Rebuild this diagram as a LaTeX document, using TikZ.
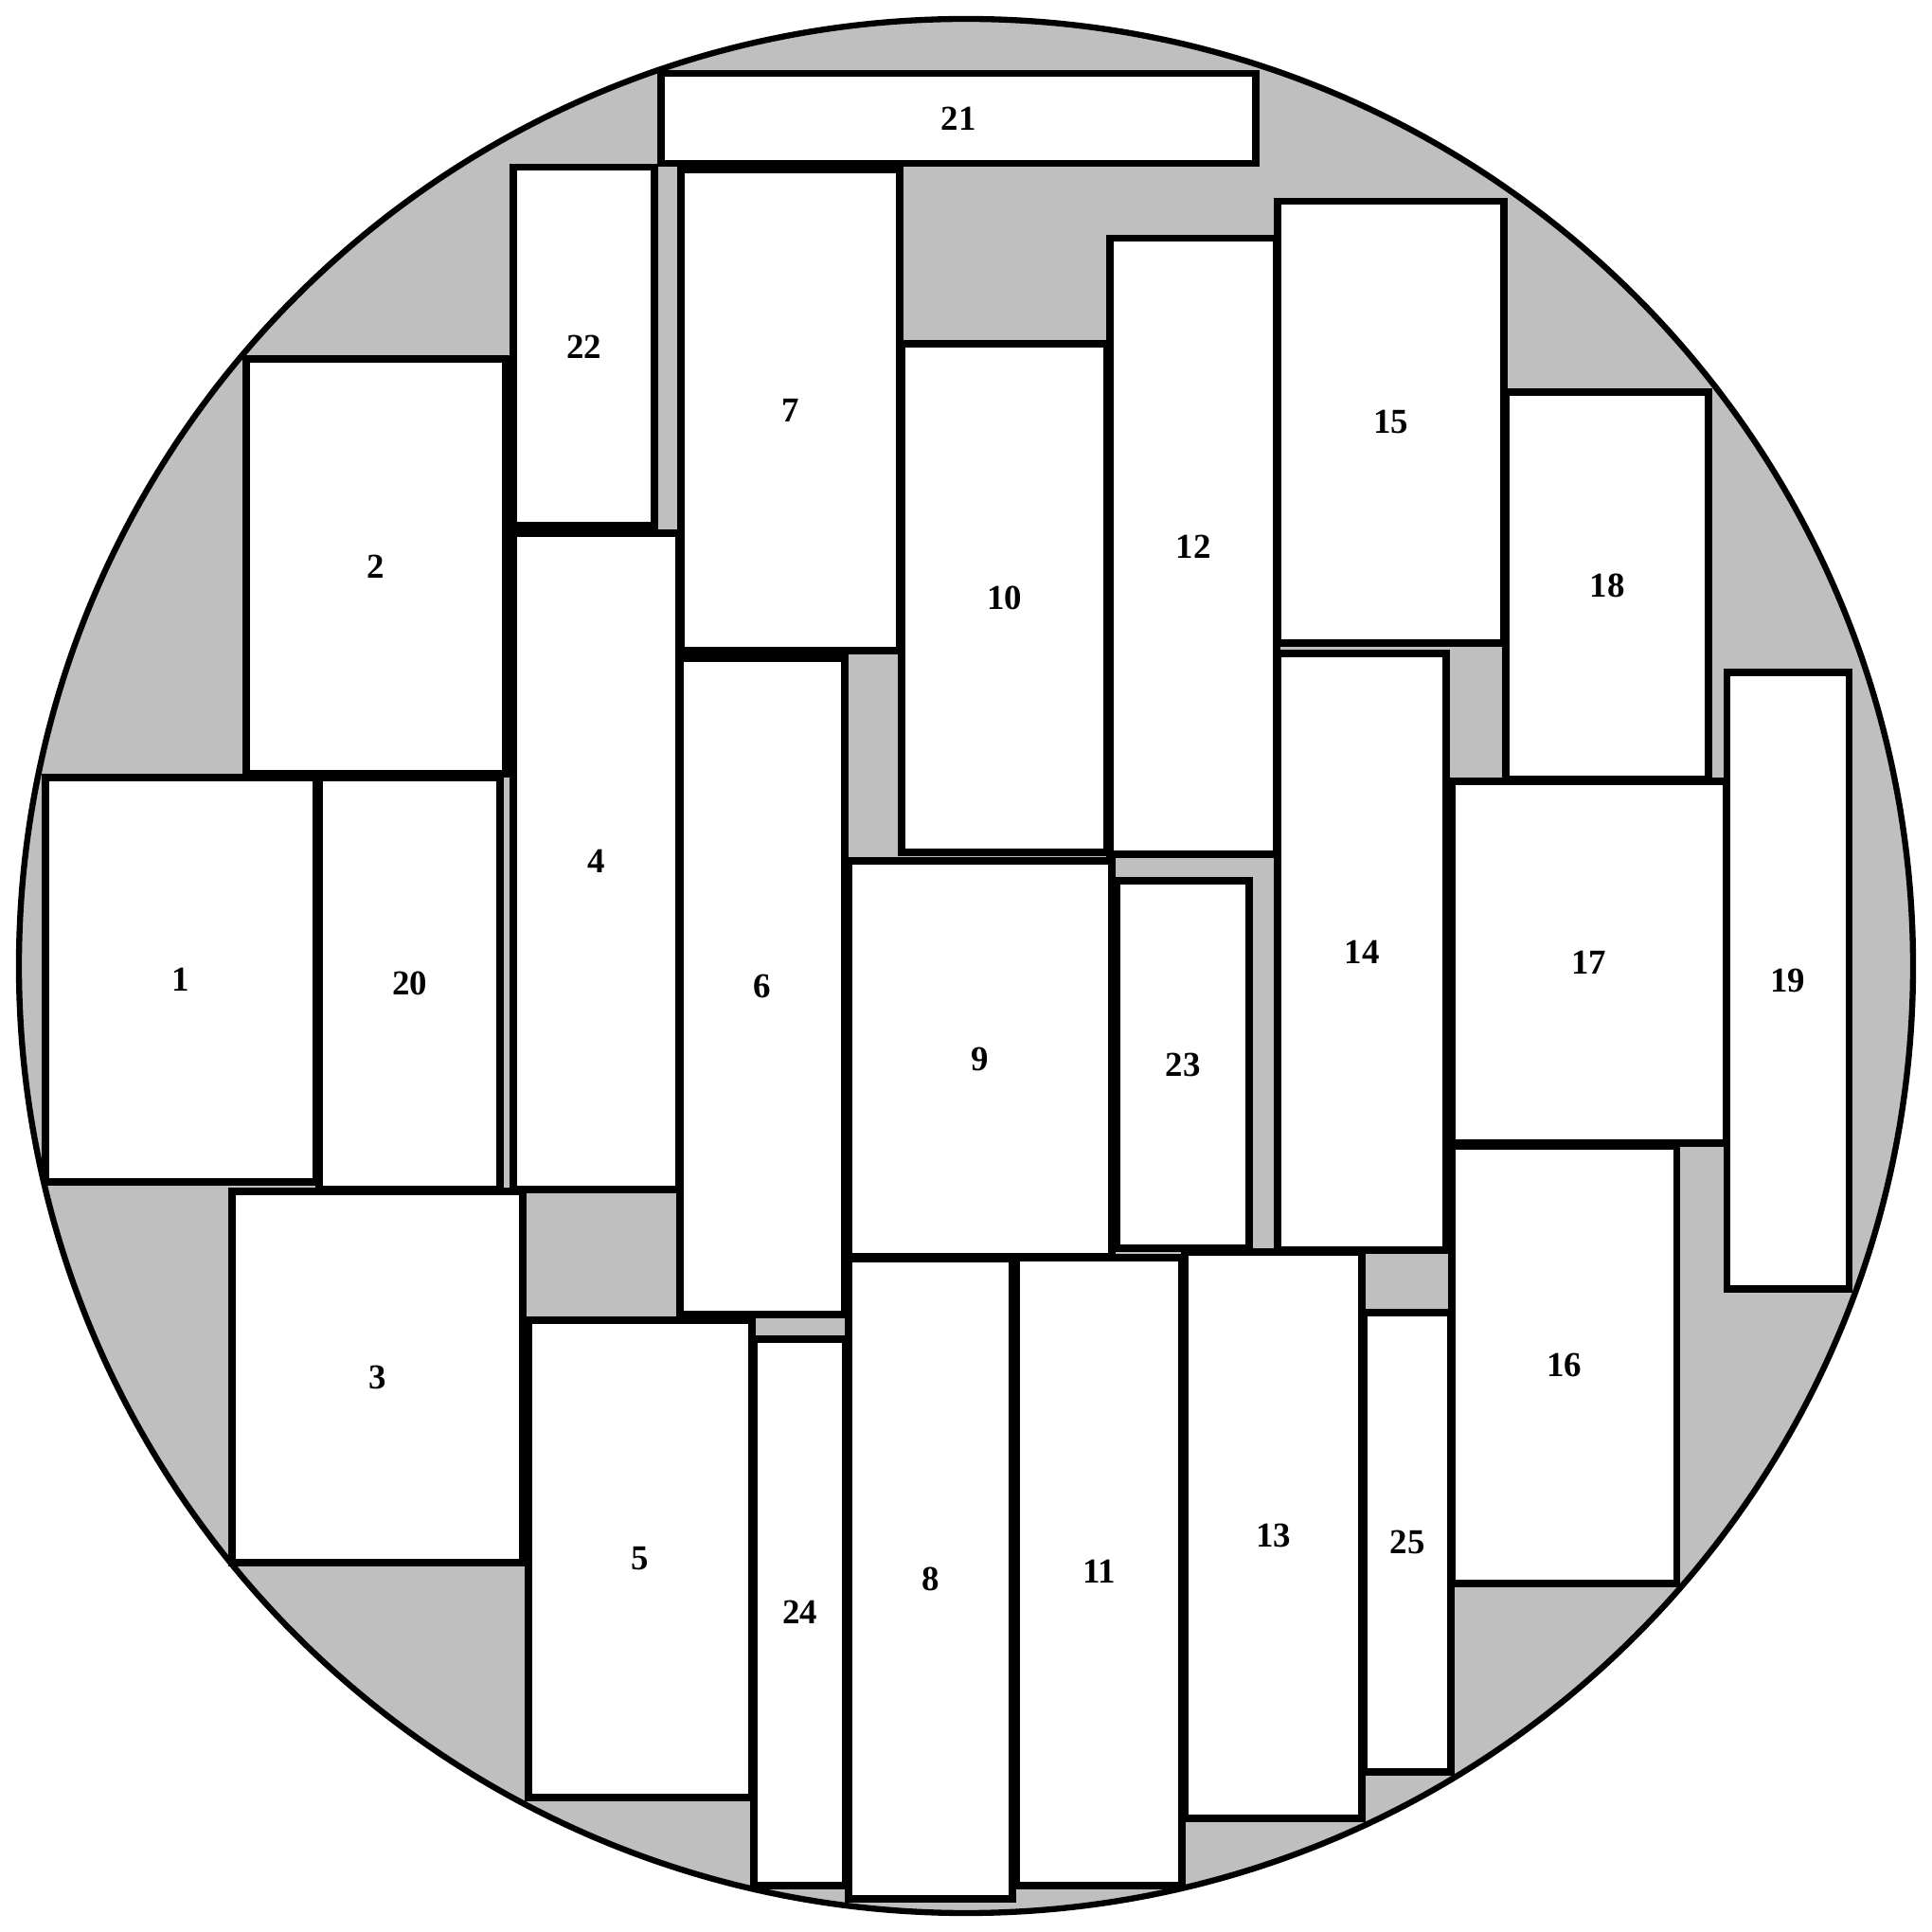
\documentclass[tikz,border=0pt]{standalone}
\usepackage{fontspec}
\setmainfont{Liberation Serif}
\usetikzlibrary{fit}
\definecolor{Waste}{HTML}{BFBFBF}
\definecolor{Ink}{HTML}{000000}

\begin{document}
\begin{tikzpicture}[x=1cm,y=1cm,
  board/.style={draw=Ink,fill=white,line width=2pt,inner sep=0pt},
  partno/.style={font=\fontsize{10.5}{12}\selectfont\bfseries,inner sep=0pt},
  wafer/.style={draw=Ink,line width=1.8pt}]
\useasboundingbox (0,0) rectangle (20.4,20.4);
% circular stock, waste in grey
\fill[Waste] (10.20,10.20) circle (10.00);
% placed parts
\node[board,fit={(0.48,12.19) (3.34,7.92)},label={[partno]center:1}] (b1) {};
\node[board,fit={(2.60,16.61) (5.34,12.23)},label={[partno]center:2}] (b2) {};
\node[board,fit={(2.45,7.82) (5.52,3.90)},label={[partno]center:3}] (b3) {};
\node[board,fit={(5.42,14.77) (7.17,7.84)},label={[partno]center:4}] (b4) {};
\node[board,fit={(5.58,6.46) (7.94,1.42)},label={[partno]center:5}] (b5) {};
\node[board,fit={(7.18,13.45) (8.92,6.52)},label={[partno]center:6}] (b6) {};
\node[board,fit={(7.19,18.60) (9.50,13.53)},label={[partno]center:7}] (b7) {};
\node[board,fit={(8.96,7.11) (10.69,0.35)},label={[partno]center:8}] (b8) {};
\node[board,fit={(8.96,11.31) (11.74,7.13)},label={[partno]center:9}] (b9) {};
\node[board,fit={(9.52,16.77) (11.69,11.40)},label={[partno]center:10}] (b10) {};
\node[board,fit={(10.73,7.12) (12.48,0.49)},label={[partno]center:11}] (b11) {};
\node[board,fit={(11.72,17.88) (13.48,11.38)},label={[partno]center:12}] (b12) {};
\node[board,fit={(12.51,7.18) (14.38,1.20)},label={[partno]center:13}] (b13) {};
\node[board,fit={(13.49,13.50) (15.27,7.20)},label={[partno]center:14}] (b14) {};
\node[board,fit={(13.49,18.27) (15.88,13.61)},label={[partno]center:15}] (b15) {};
\node[board,fit={(15.33,8.30) (17.70,3.68)},label={[partno]center:16}] (b16) {};
\node[board,fit={(15.33,12.15) (18.22,8.33)},label={[partno]center:17}] (b17) {};
\node[board,fit={(15.90,16.26) (18.04,12.17)},label={[partno]center:18}] (b18) {};
\node[board,fit={(18.23,13.30) (19.52,6.79)},label={[partno]center:19}] (b19) {};
\node[board,fit={(3.37,12.19) (5.28,7.84)},label={[partno]center:20}] (b20) {};
\node[board,fit={(6.98,19.62) (13.26,18.67)},label={[partno]center:21}] (b21) {};
\node[board,fit={(5.42,18.63) (6.91,14.85)},label={[partno]center:22}] (b22) {};
\node[board,fit={(11.79,11.10) (13.19,7.22)},label={[partno]center:23}] (b23) {};
\node[board,fit={(7.96,6.26) (8.93,0.49)},label={[partno]center:24}] (b24) {};
\node[board,fit={(14.40,6.54) (15.32,1.69)},label={[partno]center:25}] (b25) {};
% rim
\draw[wafer] (10.20,10.20) circle (10.00);
\end{tikzpicture}
\end{document}
